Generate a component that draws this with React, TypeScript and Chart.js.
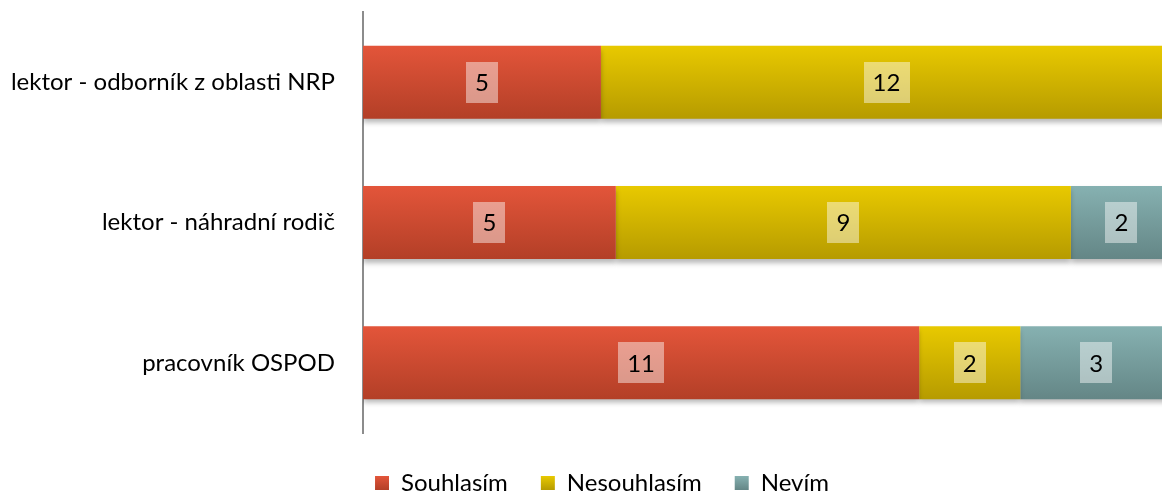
import React, { useEffect, useRef } from "react";
import { Chart, registerables } from "chart.js";

Chart.register(...registerables);

const categories = ["lektor - odborník z oblasti NRP", "lektor - náhradní rodič", "pracovník OSPOD"];
const seriesNames = ["Souhlasím", "Nesouhlasím", "Nevím"];
const souhlasim = [5, 5, 11];
const nesouhlasim = [12, 9, 2];
const nevim = [0, 2, 3];

const topColors = ["#E3553A", "#E8C900", "#86B1B1"];
const bottomColors = ["#B33F27", "#B69B00", "#648686"];

const FONT = "Lato, 'Open Sans', sans-serif";
const CAT_PCT = 0.52;

export default function App() {
  const ref = useRef<HTMLCanvasElement | null>(null);

  useEffect(() => {
    const raw = [souhlasim, nesouhlasim, nevim];
    const totals = categories.map((_, i) => raw.reduce((s, arr) => s + arr[i], 0));
    const pct = raw.map((arr) => arr.map((v, i) => (v / totals[i]) * 100));

    const barGradient = (si: number) => (ctx: any) => {
      const chart = ctx.chart;
      const y = chart.scales && chart.scales.y;
      if (!chart.chartArea || !y || ctx.dataIndex === undefined) return topColors[si];
      const c = y.getPixelForValue(ctx.dataIndex);
      const half = (y.height / categories.length) * CAT_PCT / 2;
      const g = chart.ctx.createLinearGradient(0, c - half, 0, c + half);
      g.addColorStop(0, topColors[si]);
      g.addColorStop(1, bottomColors[si]);
      return g;
    };

    const shadowPlugin = {
      id: "barShadow",
      beforeDatasetsDraw(chart: any) {
        const c = chart.ctx;
        c.save();
        c.shadowColor = "rgba(0,0,0,0.28)";
        c.shadowBlur = 5;
        c.shadowOffsetX = 0;
        c.shadowOffsetY = 4;
      },
      afterDatasetsDraw(chart: any) {
        chart.ctx.restore();
      },
    };

    const labelPlugin = {
      id: "valueLabels",
      afterDatasetsDraw(chart: any) {
        const c = chart.ctx;
        c.save();
        c.font = `24px ${FONT}`;
        c.textAlign = "center";
        c.textBaseline = "middle";
        chart.data.datasets.forEach((ds: any, di: number) => {
          const meta = chart.getDatasetMeta(di);
          meta.data.forEach((bar: any, i: number) => {
            const v = raw[di][i];
            if (!v) return;
            const cx = (bar.x + bar.base) / 2;
            const cy = bar.y;
            const txt = String(v);
            const w = c.measureText(txt).width + 18;
            const h = 41;
            c.fillStyle = "rgba(255,255,255,0.45)";
            c.fillRect(Math.round(cx - w / 2), Math.round(cy - h / 2), Math.round(w), h);
            c.fillStyle = "#000";
            c.fillText(txt, cx, cy + 1);
          });
        });
        c.restore();
      },
    };

    const legendPos = {
      id: "legendPos",
      afterInit(chart: any) {
        const lg = chart.legend;
        if (lg && !lg._patched) {
          const fit = lg.fit;
          lg.fit = function () {
            fit.call(this);
            this.height = 63;
          };
          lg._patched = true;
        }
      },
      afterLayout(chart: any) {
        const lg = chart.legend;
        if (lg) {
          lg.top += 5;
          lg.bottom += 5;
          lg.left += 16;
          lg.right += 16;
        }
      },
    };

    const chart = new Chart(ref.current!, {
      type: "bar",
      data: {
        labels: categories,
        datasets: pct.map((arr, si) => ({
          label: seriesNames[si],
          data: arr,
          backgroundColor: barGradient(si),
          borderWidth: 0,
          barPercentage: 1,
          categoryPercentage: CAT_PCT,
        })),
      },
      options: {
        indexAxis: "y",
        responsive: false,
        animation: false,
        layout: { padding: { left: 0, right: 0, top: 12, bottom: 0 } },
        scales: {
          x: { stacked: true, display: false, min: 0, max: 100 },
          y: {
            stacked: true,
            grid: { display: false, drawTicks: false },
            border: { display: true, color: "#8c8c8c", width: 2 },
            ticks: { color: "#000", font: { family: FONT, size: 24 }, padding: 28 },
            afterFit(scale: any) {
              scale.width = 363;
              scale.paddingTop = 0;
              scale.paddingBottom = 0;
            },
          },
        },
        plugins: {
          tooltip: { enabled: false },
          legend: {
            position: "bottom",
            labels: {
              boxWidth: 14,
              boxHeight: 14,
              padding: 33,
              color: "#000",
              font: { family: FONT, size: 24 },
              generateLabels(ch: any) {
                return seriesNames.map((n, si) => {
                  const g = ch.ctx.createLinearGradient(0, 476, 0, 490);
                  g.addColorStop(0, topColors[si]);
                  g.addColorStop(1, bottomColors[si]);
                  return {
                    text: n,
                    fillStyle: g,
                    strokeStyle: "rgba(0,0,0,0)",
                    lineWidth: 0,
                    hidden: false,
                    datasetIndex: si,
                  };
                });
              },
            },
          },
        },
      },
      plugins: [shadowPlugin, labelPlugin, legendPos],
    });
    return () => chart.destroy();
  }, []);

  return (
    <div style={{ position: "absolute", left: 0, top: 0, width: 1162, height: 496, overflow: "hidden", background: "#fff" }}>
      <canvas ref={ref} width={1172} height={496} style={{ display: "block" }} />
    </div>
  );
}
